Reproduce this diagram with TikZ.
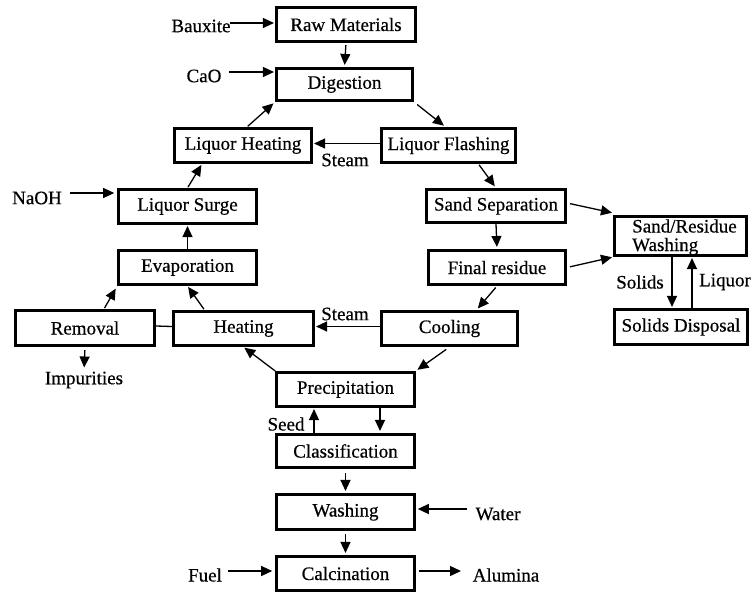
\documentclass[tikz,border=0pt]{standalone}
\usepackage{fontspec}
\setmainfont{Liberation Serif}[FakeBold=0.5]
\usetikzlibrary{arrows.meta}
\begin{document}
\begin{tikzpicture}[x=1pt,y=-1pt,
  every node/.style={font=\fontsize{19}{21}\selectfont},
  box/.style={draw, line width=2.6pt, inner sep=0pt, minimum width=138pt, minimum height=34.5pt},
  lbl/.style={inner sep=0pt},
  arr/.style={line width=1.3pt, -{Triangle[length=11pt,width=10pt]}},
  ln/.style={line width=1.3pt}]
\useasboundingbox (0,0) rectangle (753,594);
% boxes
\node[box, minimum width=139.5pt] (raw) at (346,24.5) {Raw Materials};
\node[box, minimum width=136.5pt, minimum height=32.5pt] (dig) at (344.5,84.5) {Digestion};
\node[box, minimum width=137.5pt] (lheat) at (243,145.5) {Liquor Heating};
\node[box, minimum width=134.5pt] (lflash) at (448.5,145.5) {Liquor Flashing};
\node[box] (surge) at (187.5,206.5) {Liquor Surge};
\node[box] (evap) at (187.5,267.5) {Evaporation};
\node[box, minimum width=139.5pt, minimum height=35.5pt] (removal) at (85,328) {Removal};
\node[box, minimum width=140.5pt] (heating) at (243.5,328.5) {Heating};
\node[box, minimum width=136.5pt] (cooling) at (449.5,328.5) {Cooling};
\node[box, minimum width=139.5pt, minimum height=33.5pt] (sandsep) at (496,206) {Sand Separation};
\node[box, minimum width=137.5pt] (final) at (497,267.5) {Final residue};
\node[box, minimum width=132.5pt, minimum height=39.5pt] (srw) at (680.5,236) {};
\node[lbl, anchor=base west, align=left] (srwtext) at (632,251) {Sand/Residue\\[-2.5pt]Washing};
\node[box, minimum width=133.5pt, minimum height=35.5pt] (sdisp) at (681,327) {Solids Disposal};
\node[box] (precip) at (345.5,389.5) {Precipitation};
\node[box, minimum height=33.5pt] (classif) at (345.5,451) {Classification};
\node[box, minimum height=35.5pt] (wash) at (345.5,512) {Washing};
\node[box] (calc) at (345.5,573.5) {Calcination};
% labels
\node[lbl] (baux) at (201,26) {Bauxite};
\node[lbl] (cao) at (204,76) {CaO};
\node[lbl] (naoh) at (37,198) {NaOH};
\node[lbl] (steam1) at (345,160) {Steam};
\node[lbl] (steam2) at (345,314) {Steam};
\node[lbl] (imp) at (84,380) {Impurities};
\node[lbl] (solids) at (640,282) {Solids};
\node[lbl] (liquor) at (725,282) {Liquor};
\node[lbl] (seed) at (286,424) {Seed};
\node[lbl] (water) at (498,514) {Water};
\node[lbl] (fuel) at (205,575) {Fuel};
\node[lbl] (alumina) at (506,575) {Alumina};
% free ends
\coordinate (bauxS) at (230,23);
\coordinate (caoS) at (229,72);
\coordinate (naohS) at (70,193);
\coordinate (waterS) at (467,509);
\coordinate (fuelS) at (228,571);
\coordinate (alumE) at (461,571);
% connectors
\draw[arr, shorten >=1pt] (bauxS) -- (bauxS -| raw.west);
\draw[arr, shorten <=2pt, shorten >=2pt] (raw.south) -- (dig.north);
\draw[arr, shorten >=1pt] (caoS) -- (caoS -| dig.west);
\draw[arr, shorten <=4pt, shorten >=2pt] (dig.south east) -- ([xshift=-3pt]lflash.north);
\draw[arr, shorten <=1pt, shorten >=2pt] ([xshift=4pt]lheat.north) -- (dig.south west);
\draw[arr, shorten >=1pt] ([yshift=2pt]lflash.west) -- ([yshift=2pt]lheat.east);
\draw[arr, shorten >=3pt] (naohS) -- (naohS -| surge.west);
\draw[arr, shorten <=1pt, shorten >=1pt] (surge.north) -- ([xshift=29pt]lheat.south west);
\draw[arr, shorten >=1pt] (evap.north) -- (surge.south);
\draw[arr, shorten <=1pt, shorten >=3pt] ([xshift=19pt]removal.north) -- (evap.south west);
\draw[arr, shorten <=1pt, shorten >=1pt] ([xshift=-39pt]heating.north) -- (evap.south);
\draw[ln] ([yshift=2pt]removal.east) -- ([yshift=2pt]heating.east -| heating.west);
\draw[arr, shorten >=1pt] ([yshift=2pt]cooling.west) -- ([yshift=2pt]heating.east);
\draw[arr, shorten <=3pt, shorten >=4pt] (removal.south) -- (imp.north);
\draw[arr, shorten >=1pt] (precip.north west) -- (heating.south);
\draw[arr, shorten <=1pt, shorten >=2pt] ([xshift=30pt]lflash.south) -- (sandsep.north);
\draw[arr, shorten >=2pt] (sandsep.south) -- (final.north);
\draw[arr, shorten <=3pt, shorten >=1pt] ([yshift=3pt]sandsep.east) -- ([yshift=2pt]srw.north west);
\draw[arr, shorten <=3pt, shorten >=1pt] (final.east) -- (srw.south west);
\draw[arr, shorten <=2pt, shorten >=2pt] (final.south) -- ([xshift=27pt]cooling.north);
\draw[arr, shorten >=1pt] ([xshift=-8.5pt]srw.south) -- ([xshift=-9pt]sdisp.north);
\draw[arr, shorten >=1pt] ([xshift=11pt]sdisp.north) -- ([xshift=11.5pt]srw.south);
\draw[arr, shorten <=4pt, shorten >=2pt] (cooling.south) -- (precip.north east);
\draw[arr, shorten >=1pt] ([xshift=-31.5pt]classif.north) -- ([xshift=-31.5pt]precip.south);
\draw[arr, shorten >=2pt] ([xshift=34.5pt]precip.south) -- ([xshift=34.5pt]classif.north);
\draw[arr, shorten <=4pt, shorten >=2pt] (classif.south) -- (wash.north);
\draw[arr, shorten >=2pt] (waterS) -- (waterS -| wash.east);
\draw[arr, shorten <=3pt, shorten >=2pt] (wash.south) -- (calc.north);
\draw[arr, shorten >=3pt] (fuelS) -- (fuelS -| calc.west);
\draw[arr, shorten <=3pt] (alumE -| calc.east) -- (alumE);
\end{tikzpicture}
\end{document}
